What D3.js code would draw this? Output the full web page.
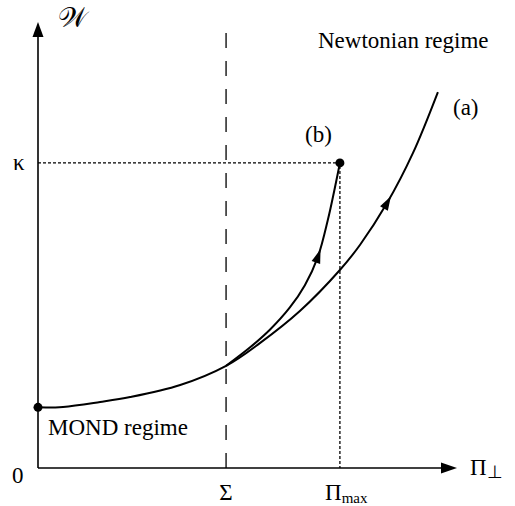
<!DOCTYPE html>
<html>
<head>
<meta charset="utf-8">
<script src="https://cdn.jsdelivr.net/npm/d3@7"></script>
<style>
  body { margin: 0; background: #fff; }
</style>
</head>
<body>
<script>
// Valeurs (unites arbitraires 0..100)
var curveA = [
    [0, 13.6], [6.0, 13.7], [14.9, 14.8], [22.1, 15.9], [34.1, 18.6],
    [45.1, 22.9], [53.2, 28.0], [62.8, 35.2], [72.4, 44.4], [77.2, 50.0],
    [83.7, 59.4], [89.9, 70.6], [95.9, 84.3]
]
var curveB = [
    [45.1, 22.9], [50.8, 27.0], [55.6, 31.0], [60.4, 36.0], [64.0, 41.0],
    [67.1, 47.3], [69.5, 55.6], [72.4, 68.4]
]
var sigma = 45.1
var piMax = 72.4
var kappa = 68.4
var arrowAt = [{ curve: 'a', x: 83.8 }, { curve: 'b', x: 67.2 }]

var width = 515
var height = 506
var serif = "'Liberation Serif'"

var x = d3.scaleLinear().domain([0, 100]).range([38, 455])
var y = d3.scaleLinear().domain([0, 100]).range([468, 22])

var svg = d3.select('body').append('svg')
    .attr('width', width)
    .attr('height', height)

// axes
svg.append('line')
    .attr('x1', x(0)).attr('y1', y(0))
    .attr('x2', x(100) - 12).attr('y2', y(0))
    .attr('stroke', '#000').attr('stroke-width', 1.6)
svg.append('path')
    .attr('d', d3.line()([[x(100) + 2, y(0)], [x(100) - 14, y(0) - 5.5], [x(100) - 14, y(0) + 5.5]]))
    .attr('fill', '#000')
svg.append('line')
    .attr('x1', x(0)).attr('y1', y(0))
    .attr('x2', x(0)).attr('y2', y(100) + 12)
    .attr('stroke', '#000').attr('stroke-width', 1.6)
svg.append('path')
    .attr('d', d3.line()([[x(0), y(100)], [x(0) - 5.5, y(100) + 15], [x(0) + 5.5, y(100) + 15]]))
    .attr('fill', '#000')

// Sigma (tirets)
svg.append('line')
    .attr('x1', x(sigma)).attr('y1', y(0))
    .attr('x2', x(sigma)).attr('y2', 26)
    .attr('stroke', '#000').attr('stroke-width', 1.3)
    .attr('stroke-dasharray', '15,13')

// kappa / Pi_max (pointilles)
svg.append('path')
    .attr('d', d3.line()([[x(0), y(kappa)], [x(piMax), y(kappa)], [x(piMax), y(0)]]))
    .attr('fill', 'none')
    .attr('stroke', '#000').attr('stroke-width', 1.3)
    .attr('stroke-dasharray', '3,2')

// courbes
var line = d3.line()
    .x(d => x(d[0]))
    .y(d => y(d[1]))
    .curve(d3.curveCatmullRom.alpha(0.5))

var paths = {}
paths.a = svg.append('path').attr('d', line(curveA))
    .attr('fill', 'none').attr('stroke', '#000').attr('stroke-width', 2)
paths.b = svg.append('path').attr('d', line(curveB))
    .attr('fill', 'none').attr('stroke', '#000').attr('stroke-width', 2)

// fleches sur les courbes
arrowAt.forEach(function (a) {
    var node = paths[a.curve].node()
    var total = node.getTotalLength()
    var lo = 0, hi = total
    for (var i = 0; i < 40; i++) {
        var mid = (lo + hi) / 2
        if (node.getPointAtLength(mid).x < x(a.x)) lo = mid; else hi = mid
    }
    var p0 = node.getPointAtLength(lo - 2)
    var p1 = node.getPointAtLength(lo + 2)
    var angle = Math.atan2(p1.y - p0.y, p1.x - p0.x) * 180 / Math.PI
    var p = node.getPointAtLength(lo)
    svg.append('path')
        .attr('d', d3.line()([[7, 0], [-7, -4.5], [-7, 4.5]]))
        .attr('fill', '#000')
        .attr('transform', 'translate(' + p.x + ',' + p.y + ') rotate(' + angle + ')')
})

// points
svg.selectAll('circle.pt')
    .data([[0, curveA[0][1]], [piMax, kappa]])
    .join('circle')
    .attr('class', 'pt')
    .attr('cx', d => x(d[0]))
    .attr('cy', d => y(d[1]))
    .attr('r', 4.5)
    .attr('fill', '#000')

// textes
var fs = 23
function label(px, py, size) {
    return svg.append('text')
        .attr('x', px).attr('y', py)
        .attr('font-family', serif)
        .attr('font-size', size || fs)
        .attr('fill', '#000')
}
label(318, 48).text('Newtonian regime')
label(48, 435).text('MOND regime')
label(453, 115).text('(a)')
label(305, 142).text('(b)')
label(13, y(kappa) + 7).text('κ')
label(12, 483).text('0')
label(x(sigma), 500).attr('text-anchor', 'middle').text('Σ')
var pm = label(325, 500)
pm.append('tspan').text('Π')
pm.append('tspan').attr('font-size', 15).attr('dy', 3).text('max')
var pp = label(470, 475)
pp.append('tspan').text('Π')
pp.append('tspan').attr('font-size', 18).attr('dy', 3).text('⊥')
label(58, 27, 28).text('𝒲')
</script>
</body>
</html>
